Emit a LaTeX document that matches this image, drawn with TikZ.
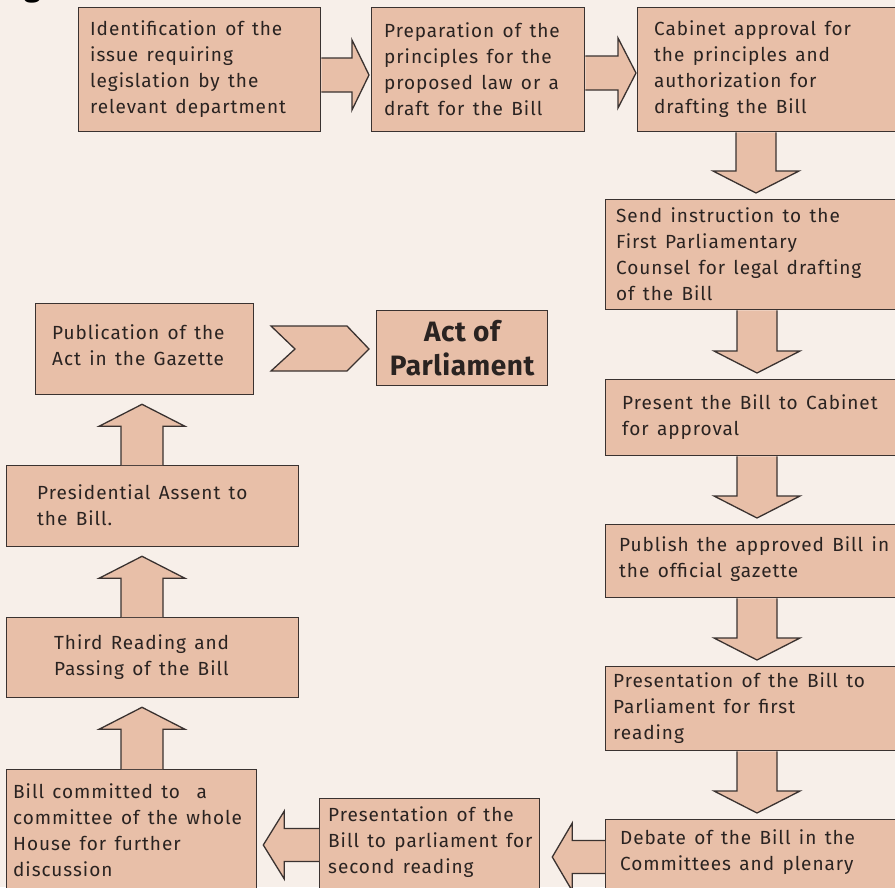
\documentclass[tikz,border=0pt]{standalone}
\usepackage{fontspec}
\setmainfont{Fira Sans}
\newfontfamily\bodyfont[LetterSpace=5,WordSpace=1.4]{Fira Sans}
\newfontfamily\actfont[LetterSpace=2]{Fira Sans}
\usetikzlibrary{calc}
\definecolor{bgcol}{HTML}{F7EFE9}
\definecolor{boxfill}{HTML}{E8BFA8}
\definecolor{bordercol}{HTML}{3A3230}
\definecolor{textcol}{HTML}{2A2321}
\tikzset{
  box/.style={rectangle, draw=bordercol, fill=boxfill, line width=1.3pt, inner sep=0pt},
  txt/.style={align=left, inner sep=0pt, text=textcol, font={\bodyfont\fontsize{19}{26}\selectfont}},
  acttxt/.style={align=center, inner sep=0pt, text=textcol, font={\actfont\bfseries\fontsize{28}{34}\selectfont}},
  blk/.style={draw=bordercol, fill=boxfill, line width=1.3pt, line join=miter}
}
\newcommand\mkbox[5]{\node[box, anchor=north west, minimum width={(#4-#2)*1pt}, minimum height={(#5-#3)*1pt}] (#1) at (#2,#3) {};}
\newcommand\arrR[5]{\draw[blk] let \p1=(#1.east), \p2=(#2.west) in
  (\x1,-#3pt+17pt) -- (\x2-#4pt-#5pt,-#3pt+17pt) -- (\x2-#4pt-#5pt,-#3pt+35pt) -- (\x2-#4pt,-#3pt)
  -- (\x2-#4pt-#5pt,-#3pt-35pt) -- (\x2-#4pt-#5pt,-#3pt-17pt) -- (\x1,-#3pt-17pt);}
\newcommand\arrL[5]{\draw[blk] let \p1=(#1.west), \p2=(#2.east) in
  (\x1,-#3pt+16.5pt) -- (\x2+#4pt+#5pt,-#3pt+16.5pt) -- (\x2+#4pt+#5pt,-#3pt+34pt) -- (\x2+#4pt,-#3pt)
  -- (\x2+#4pt+#5pt,-#3pt-34pt) -- (\x2+#4pt+#5pt,-#3pt-16.5pt) -- (\x1,-#3pt-16.5pt);}
\newcommand\arrD[3]{\draw[blk] let \p1=(#1.south), \p2=(#2.north) in
  (#3pt-20pt,\y1) -- (#3pt-20pt,\y2+28pt) -- (#3pt-43pt,\y2+28pt) -- (#3pt,\y2+6pt)
  -- (#3pt+43pt,\y2+28pt) -- (#3pt+20pt,\y2+28pt) -- (#3pt+20pt,\y1);}
\newcommand\arrU[3]{\draw[blk] let \p1=(#1.north), \p2=(#2.south) in
  (#3pt-21pt,\y1) -- (#3pt-21pt,\y2-31pt) -- (#3pt-43pt,\y2-31pt) -- (#3pt,\y2-9pt)
  -- (#3pt+43pt,\y2-31pt) -- (#3pt+21pt,\y2-31pt) -- (#3pt+21pt,\y1);}
\begin{document}
\begin{tikzpicture}[x=1pt,y=-1pt]
\useasboundingbox (0,0) rectangle (895,887);
\clip (0,0) rectangle (895,887);
\fill[bgcol] (0,0) rectangle (895,887);

% fragment of a cut-off heading
\node[anchor=base west, inner sep=0pt, text=black, font={\bfseries\fontsize{30}{30}\selectfont}] (gfrag) at (24,-4) {g};

% boxes
\mkbox{b1}{78}{7}{320}{131}
\mkbox{b2}{371}{7}{584}{131}
\mkbox{b3}{637}{7}{900}{131}
\mkbox{b4}{605}{199}{900}{309}
\mkbox{b5}{605}{379}{900}{455}
\mkbox{b6}{605}{524}{900}{597}
\mkbox{b7}{605}{666}{900}{750}
\mkbox{b8}{605}{819}{900}{900}
\mkbox{b9}{319}{798}{539}{900}
\mkbox{b10}{6}{769}{256}{900}
\mkbox{b11}{6}{617}{298}{697}
\mkbox{b12}{6}{465}{298}{546}
\mkbox{b13}{35}{303}{253}{394}
\mkbox{b14}{376}{310}{547}{385}

% block arrows
\arrR{b1}{b2}{75}{2}{17}
\arrR{b2}{b3}{73}{1}{18}
\arrD{b3}{b4}{756}
\arrD{b4}{b5}{757}
\arrD{b5}{b6}{757}
\arrD{b6}{b7}{757}
\arrD{b7}{b8}{757}
\arrL{b8}{b9}{857}{12}{20}
\arrL{b9}{b10}{845}{6}{21}
\arrU{b10}{b11}{142}
\arrU{b11}{b12}{142}
\arrU{b12}{b13}{142}
\draw[blk] (271,326) -- (347,326) -- (369,349) -- (347,371) -- (271,371) -- (295,349) -- cycle;

% texts
\node[txt, anchor=west] (t1) at (90,69) {Identification of the\\issue requiring\\legislation by the\\relevant department};
\node[txt, anchor=west] (t2) at (384,69) {Preparation of the\\principles for the\\proposed law or a\\draft for the Bill};
\node[txt, anchor=west] (t3) at (654,69) {Cabinet approval for\\the principles and\\authorization for\\drafting the Bill};
\node[txt, anchor=west] (t4) at (616,254) {Send instruction to the\\First Parliamentary\\Counsel for legal drafting\\of the Bill};
\node[txt, anchor=west] (t5) at (622,417) {Present the Bill to Cabinet\\for approval};
\node[txt, anchor=west] (t6) at (619,559) {Publish the approved Bill in\\the official gazette};
\node[txt, anchor=west] (t7) at (613,708) {Presentation of the Bill to\\Parliament for first\\reading};
\node[txt, anchor=west] (t8) at (620,852) {Debate of the Bill in the\\Committees and plenary};
\node[txt, anchor=west] (t9) at (328,842) {Presentation of the\\Bill to parliament for\\second reading};
\node[txt, anchor=west] (t10) at (13,830) {Bill committed to~~a\\committee of the whole\\House for further\\discussion};
\node[txt, anchor=west] (t11) at (54,657) {Third Reading and\\Passing of the Bill};
\node[txt, anchor=west] (t12) at (37,505) {Presidential Assent to\\the Bill.};
\node[txt, anchor=west] (t13) at (52,345) {Publication of the\\Act in the Gazette};
\node[acttxt] (t14) at (b14.center) {Act of\\Parliament};
\end{tikzpicture}
\end{document}
